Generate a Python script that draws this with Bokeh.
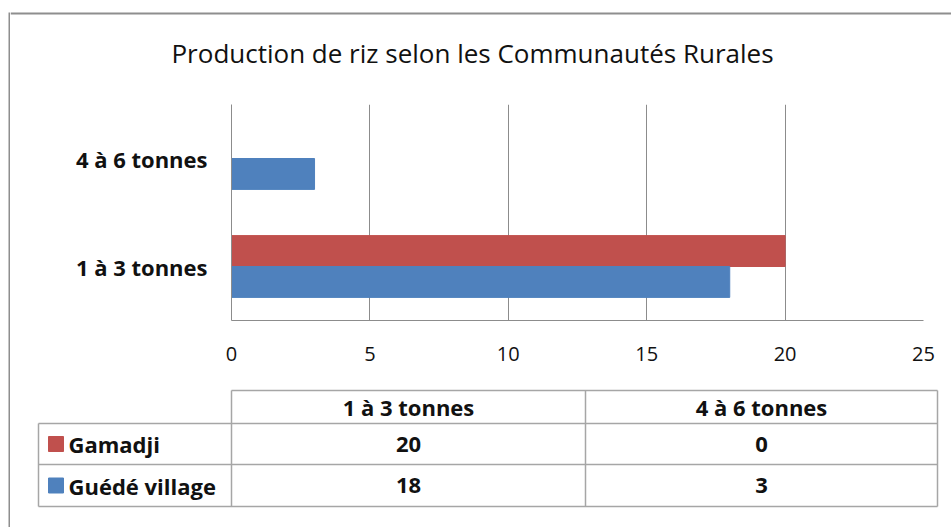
from bokeh.plotting import figure
from bokeh.models import ColumnDataSource, FactorRange, Range1d, FixedTicker, Spacer
from bokeh.layouts import column, row
from bokeh.transform import dodge
from bokeh.core.properties import value
from bokeh.embed import file_html
from bokeh.resources import INLINE

# ---- data ----
title_text = "Production de riz selon les Communautés Rurales"
categories = ["1 à 3 tonnes", "4 à 6 tonnes"]
series_names = ["Gamadji", "Guédé village"]
gamadji = [20, 0]
guede = [18, 3]
x_ticks = [0, 5, 10, 15, 20, 25]

RED = "#C0504D"
BLUE = "#4F81BD"
GRID = "#8c8c8c"
TABLE_LINE = "#a6a6a6"
BORDER = "#8e8e8e"
TXT = "#111111"
FONT = "Open Sans"

X0, X1 = 10, 951  # right column spans page x 10..951
RW = X1 - X0


def canvas(width, height, x0, x1, y0, y1, fill="white"):
    f = figure(width=width, height=height, x_range=Range1d(x0, x1), y_range=Range1d(y1, y0),
               x_axis_type=None, y_axis_type=None, toolbar_location=None,
               output_backend="svg", min_border=0, outline_line_color=None,
               background_fill_color=fill, border_fill_color=fill)
    f.xgrid.visible = False
    f.ygrid.visible = False
    return f


# ---- outer left border: a 2px grey strip ----
Lgray = canvas(2, 515, 0, 1, 0, 1, fill=BORDER)
left_col = column(Spacer(width=2, height=12), Lgray)

# ---- top band: border + title (page y 0..96) ----
T = canvas(RW, 96, X0, X1, 0, 96)
T.segment(x0=[X0], y0=[13], x1=[X1], y1=[13], line_color=BORDER, line_width=2)
T.text(x=[472], y=[52], text=[title_text], text_font=value(FONT), text_font_size="26px",
       text_align="center", text_baseline="middle", text_color=TXT)

# ---- bar chart (page y 96..380) ----
src = ColumnDataSource(dict(cat=categories, gamadji=gamadji, guede=guede))
A = figure(width=RW, height=284, y_range=FactorRange(factors=categories), x_range=Range1d(0, 25),
           output_backend="svg", toolbar_location=None,
           min_border_left=221, min_border_right=28, min_border_top=8, min_border_bottom=60,
           outline_line_color=None)
A.hbar(y=dodge("cat", 0.143, range=A.y_range), right="gamadji", left=0, height=0.286,
       source=src, fill_color=RED, line_color=RED)
A.hbar(y=dodge("cat", -0.143, range=A.y_range), right="guede", left=0, height=0.286,
       source=src, fill_color=BLUE, line_color=BLUE)

tick = FixedTicker(ticks=x_ticks)
A.xaxis.ticker = tick
A.xgrid.ticker = tick
A.xgrid.grid_line_color = GRID
A.ygrid.grid_line_color = None
for ax in (A.xaxis[0], A.yaxis[0]):
    ax.axis_line_color = GRID
    ax.major_tick_line_color = None
    ax.minor_tick_line_color = None
    ax.major_label_text_font = FONT
    ax.major_label_text_color = TXT
A.xaxis.major_label_text_font_size = "20px"
A.xaxis.major_label_standoff = 20
A.yaxis.major_label_text_font_size = "22px"
A.yaxis.major_label_text_font_style = "bold"
A.yaxis.major_label_standoff = 18

# ---- data table (page y 380..527) ----
B = canvas(RW, 147, X0, X1, 380, 527)

col_edges = [231, 585, 937]
row_edges = [390, 423, 464, 506]
left_edge = 38
hx0 = [col_edges[0], left_edge, left_edge, left_edge]
hx1 = [col_edges[-1]] * 4
B.segment(x0=hx0, y0=row_edges, x1=hx1, y1=row_edges, line_color=TABLE_LINE, line_width=1.5)
vx = [left_edge] + col_edges
vy0 = [row_edges[1]] + [row_edges[0]] * 3
B.segment(x0=vx, y0=vy0, x1=vx, y1=[row_edges[-1]] * 4, line_color=TABLE_LINE, line_width=1.5)

col_centers = [(col_edges[i] + col_edges[i + 1]) / 2 for i in range(2)]
row_centers = [(row_edges[i] + row_edges[i + 1]) / 2 for i in range(3)]

B.text(x=col_centers, y=[row_centers[0]] * 2, text=categories, text_font=value(FONT),
       text_font_size="22px", text_font_style="bold", text_align="center",
       text_baseline="middle", text_color=TXT)
for r, (name, vals, color) in enumerate(zip(series_names, [gamadji, guede], [RED, BLUE])):
    yc = row_centers[r + 1]
    B.text(x=col_centers, y=[yc] * 2, text=[str(v) for v in vals], text_font=value(FONT),
           text_font_size="22px", text_font_style="bold", text_align="center",
           text_baseline="middle", text_color=TXT)
    B.scatter(x=[55.5], y=[yc], marker="square", size=15, fill_color=color, line_color=color)
    B.text(x=[68], y=[yc], text=[name], text_font=value(FONT), text_font_size="22px",
           text_font_style="bold", text_align="left", text_baseline="middle", text_color=TXT)

layout = row(Spacer(width=8, height=527), left_col, column(T, row(A), B))
open("out.html", "w").write(file_html(layout, INLINE))
